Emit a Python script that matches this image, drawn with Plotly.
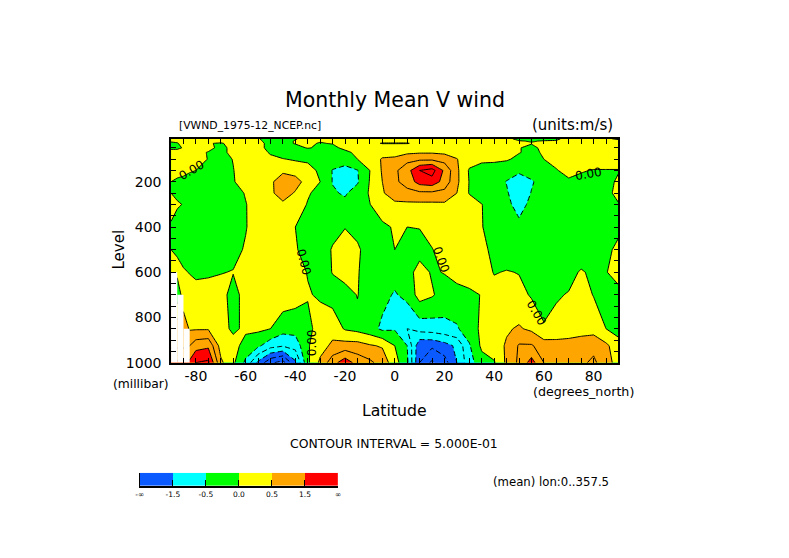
import plotly.graph_objects as go

# latitudes (finer at the south edge because of the missing data steps)
lat = [-90, -87.5, -85, -82.5, -80, -75, -70, -65, -60, -55, -50, -45, -40, -35, -30, -25, -20, -15, -10, -5,
       0, 5, 10, 15, 20, 25, 30, 35, 40, 45, 50, 55, 60, 65, 70, 75, 80, 85, 90]
level = [10, 20, 30, 50, 70, 100, 150, 200, 250, 300, 400, 500, 600, 700, 850, 925, 1000]

# V wind (m/s), one list per pressure level
v10 = [.1, .1, .1, .1, .1, .1, .1, .1, .1, .02, -.1, -.1, -.02, .1, .02, .1, .1, .1, .1, .1,
       .1, .1, .1, .1, .1, .1, .1, .1, .1, .1, -.1, -.1, -.1, -.05, .1, .1, .1, .05, -.05]
v20 = [.02, .05, .1, .1, .1, .1, .1, .1, .1, .05, -.1, -.1, .02, .1, .02, .1, .15, .15, .15, .1,
       .1, .1, .1, .1, .1, .1, .15, .1, .1, .1, .02, -.02, .02, .02, .1, .15, .15, .1, .1]
v30 = [-.03, -.02, .1, .1, .1, .02, -.03, .1, .2, .1, -.1, -.1, .02, .05, -.02, .02, .1, .2, .1, -.02,
       -.02, -.02, .1, .15, .15, .15, .15, .1, .15, .1, .05, .02, .1, .15, .2, .2, .2, .2, .15]
v50 = [-.05, -.05, .02, .1, .1, .1, -.1, .1, .2, .2, -.2, -.3, -.1, .02, -.05, -.1, .1, .2, .2, .25,
       .25, .3, .3, .3, .25, .2, .2, .1, .2, .1, .02, -.1, .1, .2, .2, .2, .2, .2, .2]
v70 = [.1, .1, .1, .1, .1, -.02, -.1, .1, .3, .2, -.05, -.2, -.2, -.2, -.2, -.2, -.1, .1, .2, .3,
       .3, .4, .45, .45, .4, .3, .2, .01, .1, .1, .02, -.1, .05, .15, .2, .2, .2, .2, .2]
v100 = [.2, .2, .2, .2, .2, -.02, -.2, .02, .3, .25, .1, .02, -.05, -.1, -.2, -.3, -.1, .0, .2, .55,
        .6, .85, .9, .9, .8, .52, .2, .1, .1, .05, -.1, -.2, .0, .1, .15, .2, .2, .2, .2]
v150 = [.1, .1, .1, .05, .0, -.3, -.3, -.02, .3, .3, .3, .4, .3, .2, -.1, -.52, -.8, -.52, .0, .55,
        .9, 1.3, 2.0, 2.2, 1.4, .6, -.05, -.2, -.25, -.3, -.35, -.3, -.2, -.02, .1, .03, -.02, -.02, -.02]
v200 = [.0, -.05, -.1, -.2, -.3, -.4, -.4, -.05, .3, .3, .4, .8, .7, .3, .0, -.52, -.9, -.55, .03, .5,
        .9, 1.2, 1.7, 1.8, 1.3, .6, -.02, -.2, -.3, -.52, -.9, -.55, -.3, -.1, -.05, -.1, -.1, -.1, .05]
v250 = [.0, -.1, -.2, -.3, -.4, -.45, -.45, -.3, .05, .3, .4, .75, .45, .05, -.15, -.45, -.55, -.3, .05, .45,
        .75, .85, .9, .9, .85, .5, -.03, -.25, -.4, -.45, -.8, -.48, -.3, -.2, -.2, -.2, -.2, -.1, .1]
v300 = [.3, .05, -.02, -.3, -.4, -.45, -.45, -.4, -.03, .3, .35, .4, .25, -.03, -.2, -.3, -.4, -.3, -.01, .3,
        .4, .4, .4, .4, .42, .3, .25, .01, -.2, -.4, -.65, -.4, -.4, -.4, -.4, -.4, -.3, -.15, -.02]
v400 = [-.1, -.2, -.4, -.4, -.45, -.45, -.45, -.4, -.03, .25, .3, .3, .0, -.2, -.3, -.2, -.02, -.2, -.15, -.1,
        .05, .0, .02, .2, .3, .35, .35, .02, -.2, -.3, -.4, -.45, -.45, -.45, -.4, -.4, -.3, -.2, -.05]
v500 = [.0, -.05, -.2, -.3, -.4, -.4, -.4, -.15, .05, .25, .3, .3, .05, -.2, -.3, .05, .25, .1, -.3, -.35,
        .0, -.3, -.2, -.02, .2, .3, .3, .1, -.1, -.3, -.4, -.4, -.4, -.4, -.4, -.3, -.2, -.05, .05]
v600 = [.2, .1, .05, -.02, -.15, -.1, -.02, .02, .3, .35, .35, .35, .25, -.03, -.25, .02, .2, .03, -.2, -.3,
        -.3, -.2, .2, -.05, .02, .2, .25, .25, -.03, .03, -.02, -.2, -.3, -.3, -.15, .05, -.1, -.03, .25]
v700 = [.3, -.3, .2, .2, .3, .3, .2, -.2, .2, .3, .3, .3, .2, .05, -.08, -.2, -.2, .02, -.3, -.35,
        -.55, -.35, .2, .05, -.2, -.2, -.1, .02, .2, .25, .15, -.05, -.2, -.05, .03, .2, -.02, -.2, -.2]
v850 = [.8, .8, .8, .45, .45, .45, .2, -.1, .1, .1, .0, -.3, -.3, -.2, .3, .3, -.05, -.15, -.3, -.6,
        -.55, -1.0, -.8, -.75, -.65, -.55, -.25, .1, .2, .45, .55, .4, .05, .15, .3, .3, .3, .0, -.2]
v925 = [.9, .9, .9, 1.0, 1.3, 1.4, .3, .2, -.2, -.4, -.8, -.95, -.8, -.05, .3, .6, .7, .7, .55, .45,
        .0, -.5, -1.9, -1.9, -1.7, -1.4, -.55, .1, .3, .55, 1.05, 1.05, .75, .7, .65, .75, .85, .6, .2]
v1000 = [1.6, 1.6, 1.6, 1.6, 2.0, 2.1, .6, .1, -.6, -1.6, -2.4, -2.7, -1.6, -.1, .6, 1.3, 1.8, 1.3, 1.1, .8,
         .2, -.4, -2.0, -2.6, -2.2, -1.5, -.7, -.2, -.05, .6, 1.1, 1.7, 1.0, .8, .7, .9, 1.1, .7, .3]

v = [v10, v20, v30, v50, v70, v100, v150, v200, v250, v300, v400, v500, v600, v700, v850, v925, v1000]

# below ground at the south pole: no data from this level down to 1000
missing_lat = [-88.75, -86.25, -83.75]
missing_top = [600, 700, 850]

# colour bands: edges and colours
band_edges = [-3, -1.5, -0.5, 0, 0.5, 1.5, 3]
band_colors = ["#0a5aff", "#00ffff", "#00ff00", "#ffff00", "#ffa500", "#ff0000"]
band_labels = ["-\u221e", "-1.5", "-0.5", "0.0", "0.5", "1.5", "\u221e"]

# plotly spreads the colorscale over start-size/2 .. end+size/2 of the contours
colorscale = []
for i, c in enumerate(band_colors):
    colorscale.append([max((band_edges[i] + 3.25) / 6, 0) if i else 0, c])
    colorscale.append([(band_edges[i + 1] + 3.25) / 6 if i < 5 else 1, c])

font = "DejaVu Sans"
W, H = 773, 551
OX, OY = 8, 8
VS = 0.984  # the photo comes back slightly squeezed in height


def fx(px):
    return (px - OX) / W


def fy(py):
    return 1 - (py / VS - OY) / H


fig = go.Figure()

# filled bands
fig.add_trace(go.Contour(x=lat, y=level, z=v, autocontour=False,
                         contours=dict(start=-3, end=2.5, size=0.5, coloring="fill"),
                         colorscale=colorscale, line=dict(width=0, smoothing=0),
                         showscale=False, hoverinfo="skip"))
# solid lines for zero and positive, dashed for negative
fig.add_trace(go.Contour(x=lat, y=level, z=v, autocontour=False,
                         contours=dict(start=0, end=2.5, size=0.5, coloring="none"),
                         line=dict(color="black", width=1, smoothing=0),
                         showscale=False, hoverinfo="skip"))
fig.add_trace(go.Contour(x=lat, y=level, z=v, autocontour=False,
                         contours=dict(start=-3, end=-0.5, size=0.5, coloring="none"),
                         line=dict(color="black", width=1, dash="5px,3px", smoothing=0),
                         showscale=False, hoverinfo="skip"))

# blank out the missing cells
fig.add_trace(go.Bar(x=missing_lat, y=[t - 1000 for t in missing_top], base=1000, width=2.5,
                     marker=dict(color="white", line=dict(width=0)), hoverinfo="skip"))

# the key under the plot
fig.add_trace(go.Heatmap(x=[0.5, 1.5, 2.5, 3.5, 4.5, 5.5], y=[0], z=[[0, 1, 2, 3, 4, 5]],
                         xaxis="x2", yaxis="y2", zmin=-0.5, zmax=5.5, showscale=False, hoverinfo="skip",
                         colorscale=[[(i + j) / 6, c] for i, c in enumerate(band_colors) for j in (0, 1)]))

x_ticks = list(range(-90, 95, 5))
x_text = [str(t) if t % 20 == 0 and abs(t) < 90 else "" for t in x_ticks]
y_ticks = list(range(50, 1050, 50))
y_text = [str(t) if t % 200 == 0 else "" for t in y_ticks]

fig.update_layout(
    width=W, height=H, margin=dict(l=0, r=0, t=0, b=0),
    paper_bgcolor="white", plot_bgcolor="white", showlegend=False,
    font=dict(family=font, size=12, color="black"),
    xaxis=dict(domain=[fx(168.5), fx(620)], range=[-90, 90], tickmode="array", tickvals=x_ticks, ticktext=x_text,
               ticks="inside", ticklen=5, tickcolor="black", showgrid=False, zeroline=False,
               showline=True, linecolor="black", linewidth=1.5, mirror="allticks", tickfont=dict(size=14)),
    yaxis=dict(domain=[fy(362), fy(138.5)], range=[1000, 10], tickmode="array", tickvals=y_ticks, ticktext=y_text,
               ticks="inside", ticklen=5, tickcolor="black", showgrid=False, zeroline=False, ticklabelstandoff=5,
               showline=True, linecolor="black", linewidth=1.5, mirror="allticks", tickfont=dict(size=14)),
    xaxis2=dict(domain=[fx(137), fx(337)], range=[0, 6], anchor="y2", tickmode="array", tickvals=list(range(7)),
                ticktext=band_labels, ticks="inside", ticklen=6, tickcolor="black", showgrid=False, zeroline=False,
                showline=True, linecolor="black", linewidth=1.5, tickfont=dict(size=7.5)),
    yaxis2=dict(domain=[fy(485), fy(472)], anchor="x2", range=[-0.5, 0.5], showticklabels=False, ticks="",
                showgrid=False, zeroline=False, showline=True, linecolor="black", linewidth=1),
)

# page text: (text, x px, y px, size, anchor, angle)
page_text = [
    ("Monthly Mean V wind", 394, 100, 20.5, "center", 0),
    ("[VWND_1975-12_NCEP.nc]", 175, 125, 10.8, "left", 0),
    ("(units:m/s)", 617, 125, 15, "right", 0),
    ("Level", 116, 249, 15, "center", -90),
    ("(millibar)", 108, 383, 12.3, "left", 0),
    ("(degrees_north)", 532, 391, 12.7, "left", 0),
    ("Latitude", 394, 410, 15.7, "center", 0),
    ("CONTOUR INTERVAL = 5.000E-01", 393, 443, 12.4, "center", 0),
    ("(mean) lon:0..357.5", 491, 481, 11.7, "left", 0),
]
for txt, px, py, size, anchor, angle in page_text:
    fig.add_annotation(text=txt, x=fx(px), y=fy(py), xref="paper", yref="paper", showarrow=False,
                       xanchor=anchor, yanchor="middle", textangle=angle, font=dict(size=size))

# labels sitting on the zero contour: (lat, level, angle)
zero_labels = [(-81.6, 147, -30), (-36.7, 556, 75), (-33.5, 912, -90), (18.6, 547, 70), (57, 780, 60), (78, 165, -10)]
for la, le, angle in zero_labels:
    fig.add_annotation(text="0.00", x=la, y=le, xref="x", yref="y", showarrow=False,
                       textangle=angle, font=dict(size=12))

fig.write_html("out.html")
